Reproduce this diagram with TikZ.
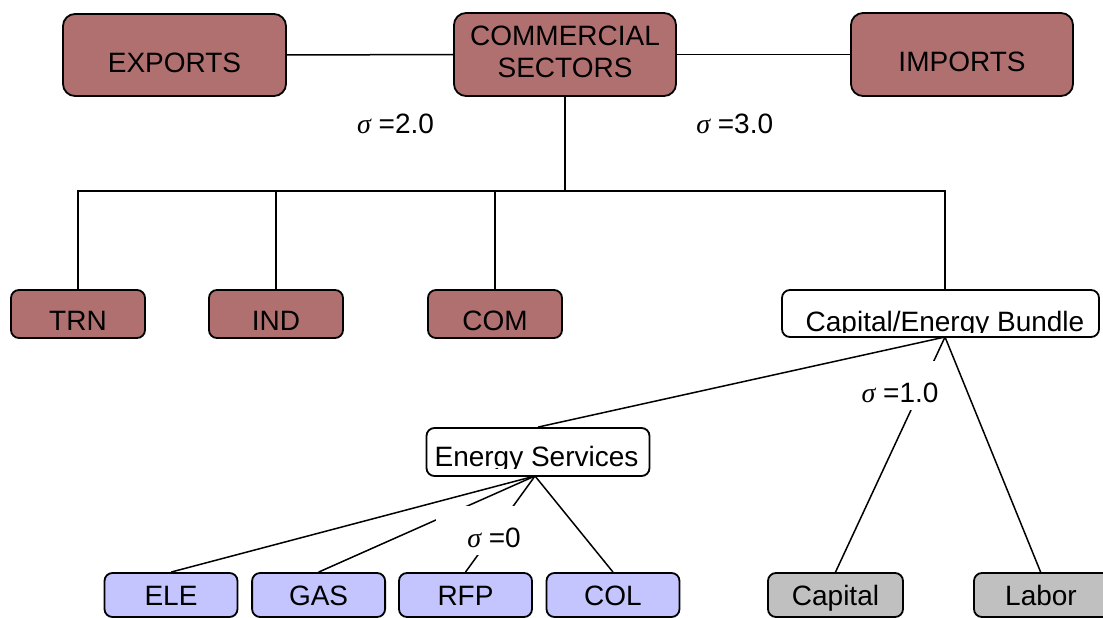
\documentclass[tikz,border=0pt]{standalone}
\usepackage{fontspec}
\setmainfont{Liberation Sans}
\newfontfamily\sigfont{Liberation Serif}
\newcommand\sigmaglyph{{\sigfont\itshape σ}}
\definecolor{brownfill}{RGB}{176,112,112}
\definecolor{bluefill}{RGB}{196,196,255}
\definecolor{grayfill}{RGB}{192,192,192}
\tikzset{
  conn/.style={line width=1.5pt, draw=black},
  boxbase/.style={draw=black, line width=1.8pt, inner sep=2pt, font=\fontsize{28}{32}\selectfont, rounded corners=8pt},
  one/.style={text depth=0pt},
  bigr/.style={rounded corners=12pt},
  brownbox/.style={boxbase, fill=brownfill},
  bluebox/.style={boxbase, fill=bluefill, one, minimum width=133pt, minimum height=44pt, text height=20pt},
  graybox/.style={boxbase, fill=grayfill, one, minimum width=135pt, minimum height=44pt, text height=20pt},
  whitebox/.style={boxbase, fill=white},
  sectorbox/.style={brownbox, one, minimum width=134pt, minimum height=48pt, text height=32pt},
  txt/.style={inner sep=0pt, font=\fontsize{28}{32}\selectfont},
  lbl/.style={inner sep=0pt, font=\fontsize{28}{32}\selectfont, anchor=base}
}
\begin{document}
\begin{tikzpicture}[x=1pt,y=-1pt]
\useasboundingbox (0,0) rectangle (1103,618);
% coordinates for connectors
\coordinate (bus) at (565,191);
\coordinate (cebtop) at (945,290);
\coordinate (cebbot) at (945,337);
\coordinate (esbot) at (535,476);

% top row
\node[brownbox, bigr, one, minimum width=223pt, minimum height=82pt, text height=36pt] (exp) at (174.5,55) {EXPORTS};
\node[brownbox, bigr, minimum width=222pt, minimum height=83pt, align=center, text depth=6pt] (cs) at (565,54.5) {COMMERCIAL\\SECTORS};
\node[brownbox, bigr, one, minimum width=222pt, minimum height=83pt, text height=35pt] (imp) at (962,54.5) {IMPORTS};

% sectors
\node[sectorbox] (trn) at (78,314) {TRN};
\node[sectorbox] (ind) at (276,314) {IND};
\node[sectorbox] (com) at (495,314) {COM};
\node[whitebox, minimum width=317pt, minimum height=47pt] (ceb) at (940.5,313.5) {};
\begin{scope}
  \clip (783,291) rectangle (1098,332.5);
  \node[txt, anchor=base] (cebtext) at (945,331) {Capital/Energy Bundle};
\end{scope}

% energy services
\node[whitebox, minimum width=223pt, minimum height=48pt] (es) at (538,452) {};
\begin{scope}
  \clip (428,429) rectangle (648,468.4);
  \node[txt, anchor=base] (estext) at (536.5,466.7) {Energy Services};
\end{scope}

% bottom row
\node[bluebox] (ele) at (171,595) {ELE};
\node[bluebox] (gas) at (318.6,595) {GAS};
\node[bluebox] (rfp) at (465.5,595) {RFP};
\node[bluebox] (col) at (613,595) {COL};
\node[graybox] (cap) at (835.5,595) {Capital};
\node[graybox, minimum width=150pt] (lab) at (1049,595) {\hspace*{-16pt}Labor};
\coordinate (labtop) at (1041,573);

% connectors
\draw[conn] (exp.east) -- (cs.west);
\draw[conn] (cs.east) -- (imp.west);
\draw[conn] (cs.south) -- (bus);
\draw[conn] (trn.north) -- (trn.north |- bus) -- (cebtop |- bus) -- (cebtop);
\draw[conn] (ind.north) -- (ind.north |- bus);
\draw[conn] (com.north) -- (com.north |- bus);
\draw[conn] (cebbot) -- (es.north);
\draw[conn] (cebbot) -- (cap.north);
\draw[conn] (cebbot) -- (labtop);
\draw[conn] (esbot) -- (ele.north);
\draw[conn] (esbot) -- (gas.north);
\draw[conn] (esbot) -- (rfp.north);
\draw[conn] (esbot) -- (col.north);

% label backgrounds that break the lines
\fill[white] (436,506) rectangle (527,555);
\fill[white] (858,361) rectangle (944,410);

% sigma labels
\node[lbl] (s2) at (395.5,133) {\sigmaglyph\ =2.0};
\node[lbl] (s3) at (734.7,133) {\sigmaglyph\ =3.0};
\node[lbl] (s1) at (900,402) {\sigmaglyph\ =1.0};
\node[lbl] (s0) at (494,547) {\sigmaglyph\ =0};
\end{tikzpicture}
\end{document}
